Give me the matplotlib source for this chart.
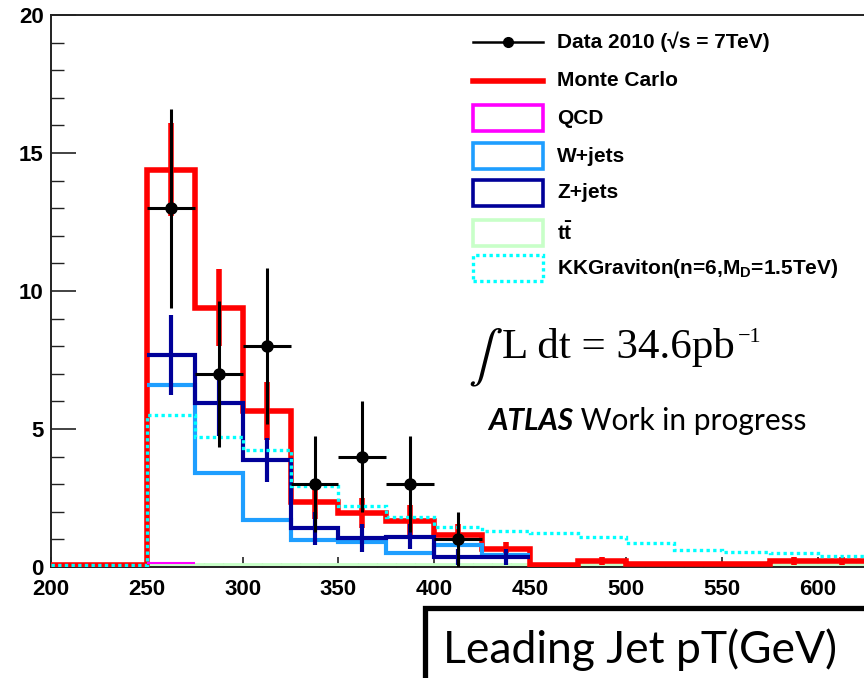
import numpy as np
import matplotlib
matplotlib.use("Agg")
import matplotlib.pyplot as plt
from matplotlib.lines import Line2D
from matplotlib.patches import Rectangle

plt.rcParams['mathtext.fontset'] = 'custom'
plt.rcParams['mathtext.rm'] = 'Liberation Sans:bold'
plt.rcParams['mathtext.it'] = 'Liberation Sans:bold'
plt.rcParams['mathtext.bf'] = 'Liberation Sans:bold'

# ---------------- data ----------------
edges = np.arange(200, 650, 25)           # 17 bins, 200..625
centers = edges[:-1] + 12.5

mc_vals = [0.08, 0.08, 14.4, 9.4, 5.65, 2.35, 1.95, 1.68, 1.16, 0.66,
           0.08, 0.23, 0.1, 0.1, 0.1, 0.23, 0.23]
mc_err = [0, 0, 1.7, 1.4, 1.05, 0.6, 0.55, 0.55, 0.4, 0.25,
          0.05, 0.15, 0, 0, 0, 0.15, 0.15]

comp_edges = np.arange(250, 475, 25)      # 8 bins, 250..450
zjets_vals = [7.68, 5.93, 3.88, 1.4, 1.04, 1.1, 0.37, 0.37]
zjets_err = [1.45, 1.2, 0.8, 0.6, 0.5, 0.45, 0.3, 0.3]
wjets_vals = [6.6, 3.4, 1.7, 0.98, 0.9, 0.5, 0.8, 0.45]

qcd_edges = [250, 275]
qcd_vals = [0.15]

tt_edges = [250, 625]
tt_vals = [0.07]

kk_vals = [0.08, 0.08, 5.5, 4.72, 4.24, 2.93, 2.21, 1.8, 1.45, 1.3,
           1.25, 1.08, 0.87, 0.62, 0.54, 0.5, 0.4]

data_x = [262.5, 287.5, 312.5, 337.5, 362.5, 387.5, 412.5]
data_y = [13, 7, 8, 3, 4, 3, 1]
data_err = [3.6, 2.65, 2.83, 1.73, 2.0, 1.73, 1.0]

legend_labels = ["Data 2010 (√s = 7TeV)", "Monte Carlo", "QCD", "W+jets",
                 "Z+jets", r"t$\bar{\mathrm{t}}$",
                 r"KKGraviton(n=6,M$_{\mathrm{D}}$=1.5TeV)"]

RED = '#FF0000'
DBLUE = '#000099'
LBLUE = '#1E9EFF'
MAG = '#FF00FF'
GREEN = '#C8FFC8'
CYAN = '#00FFFF'

W, H = 864, 678
fig = plt.figure(figsize=(W / 100, H / 100), dpi=100)

def fx(px):
    return px / W

def fy(py):
    return 1 - py / H

ax_left, ax_top, ax_bottom, ax_right = 50.8, 15, 567, 864
ax = fig.add_axes([fx(ax_left), fy(ax_bottom), fx(ax_right - ax_left),
                   (ax_bottom - ax_top) / H])
ax.set_xlim(200, 624)
ax.set_ylim(0, 20)

# histograms
ax.stairs(tt_vals, tt_edges, color=GREEN, lw=3.5, baseline=None, zorder=2)
ax.stairs(mc_vals, edges, color=RED, lw=4.0, baseline=None, zorder=3)
ax.errorbar(centers, mc_vals, yerr=mc_err, fmt='none', ecolor=RED,
            elinewidth=4.0, capsize=0, zorder=3)
ax.stairs(qcd_vals, qcd_edges, color=MAG, lw=1.5, baseline=None, zorder=4)
ax.stairs(wjets_vals, comp_edges, color=LBLUE, lw=3.0, baseline=None, zorder=4)
ax.stairs(zjets_vals, comp_edges, color=DBLUE, lw=3.0, baseline=None, zorder=5)
ax.errorbar(comp_edges[:-1] + 12.5, zjets_vals, yerr=zjets_err, fmt='none',
            ecolor=DBLUE, elinewidth=3.0, capsize=0, zorder=5)
ax.stairs(kk_vals, edges, color=CYAN, lw=2.4, baseline=None, zorder=6,
          linestyle=(0, (1.0, 1.0)))
ax.errorbar(data_x, data_y, yerr=data_err, xerr=12.5, fmt='o', color='black',
            ms=8, elinewidth=2.2, capsize=0, zorder=7)

# axes style
for s in ['left', 'top', 'bottom']:
    ax.spines[s].set_linewidth(1.4)
    ax.spines[s].set_color('#222222')
ax.spines['right'].set_visible(False)

ax.set_xticks(np.arange(200, 625, 50))
ax.set_xticks(np.arange(200, 625, 10), minor=True)
ax.set_yticks(np.arange(0, 21, 5))
ax.set_yticks(np.arange(0, 21, 1), minor=True)
ax.tick_params(axis='x', which='major', direction='in', length=7.5, width=1.2,
               pad=8.5, labelsize=16, color='#222222')
ax.tick_params(axis='x', which='minor', direction='in', length=3, width=1.0,
               color='#222222')
ax.tick_params(axis='y', which='major', direction='in', length=18, width=1.2,
               pad=5, labelsize=16, color='#222222')
ax.tick_params(axis='y', which='minor', direction='in', length=9, width=1.0,
               color='#222222')
for lab in ax.get_xticklabels() + ax.get_yticklabels():
    lab.set_fontfamily('Liberation Sans')
    lab.set_fontweight('bold')

# ---------------- legend (manual) ----------------
rows = [42, 81, 118, 156, 193, 233, 268]
hx0, hx1 = 473, 543
tx = 557
fs_leg = 15
for i, (lab, yy) in enumerate(zip(legend_labels, rows)):
    if i == 0:
        fig.add_artist(Line2D([fx(hx0), fx(hx1)], [fy(yy), fy(yy)],
                              color='black', lw=1.8,
                              transform=fig.transFigure))
        fig.add_artist(Line2D([fx((hx0 + hx1) / 2)], [fy(yy)], marker='o',
                              ms=7, color='black', transform=fig.transFigure))
    elif i == 1:
        fig.add_artist(Line2D([fx(hx0), fx(hx1)], [fy(yy), fy(yy)],
                              color=RED, lw=4.0, transform=fig.transFigure))
    else:
        col = [MAG, LBLUE, DBLUE, GREEN, CYAN][i - 2]
        ls = (0, (1.0, 1.0)) if i == 6 else 'solid'
        lw = 2.4 if i == 6 else 2.6
        fig.add_artist(Rectangle((fx(hx0), fy(yy + 13)), fx(hx1 - hx0),
                                 26 / H, facecolor='none', edgecolor=col,
                                 lw=lw, linestyle=ls,
                                 transform=fig.transFigure))
    fig.text(fx(tx), fy(yy), lab, fontsize=fs_leg, fontfamily='Liberation Sans',
             fontweight='bold', va='center', ha='left')

# luminosity text
fig.text(fx(468), fy(370), r'$\int$', fontsize=37, math_fontfamily='stix',
         ha='left', va='baseline')
lum = fig.text(fx(502), fy(358), 'L dt = 34.6pb', fontsize=31,
               fontfamily='Liberation Serif', ha='left', va='baseline')
ax.annotate('\u22121', xy=(1, 1), xycoords=lum, xytext=(2, 0),
            textcoords='offset points', fontsize=16,
            fontfamily='Liberation Serif', ha='left', va='top',
            annotation_clip=False)

# ATLAS label
atl = fig.text(fx(488), fy(421), 'ATLAS', fontsize=21.5, fontfamily='Lato',
               fontweight='bold', fontstyle='italic', va='center', ha='left')
ax.annotate(' Work in progress', xy=(1, 0.5), xycoords=atl, fontsize=21.5,
            fontfamily='Lato', va='center', ha='left', annotation_clip=False)

# x-axis title box
fig.add_artist(Rectangle((fx(425), fy(700)), fx(500), (700 - 608) / H,
                         facecolor='white', edgecolor='black', lw=3.8,
                         transform=fig.transFigure))
fig.text(fx(443), fy(663), 'Leading Jet pT(GeV)', fontsize=32,
         fontfamily='Lato', ha='left', va='baseline')

fig.savefig('out.png', dpi=100)
